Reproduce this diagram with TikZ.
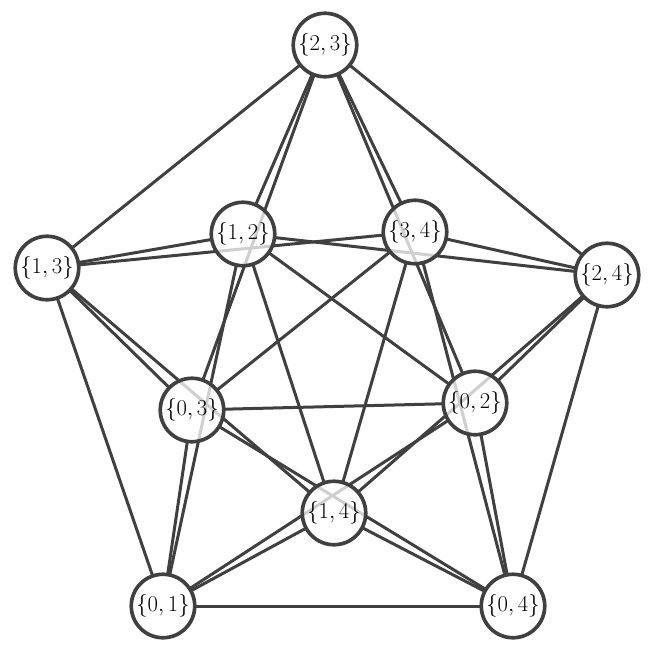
\documentclass[tikz,border=0pt]{standalone}
\usepackage{tikz}
\usetikzlibrary{calc}

\begin{document}
\begin{tikzpicture}[x=0.03cm, y=-0.03cm]
    \tikzset{SpotStyle/.style = {circle, minimum size=1.9cm, inner sep=0pt},
      VertexStyle/.style = {SpotStyle, draw=black!75, line width=1.1mm,
        preaction={fill=white, fill opacity=0.75}, font=\LARGE, scale=1.12},
      EdgeStyle/.style = {draw=black!75, line width=0.9mm}}
    \useasboundingbox (0,0) rectangle (664,662);
    \node[SpotStyle] (s23) at (325,45)  {};
    \node[SpotStyle] (s13) at (47,268)  {};
    \node[SpotStyle] (s12) at (243,234) {};
    \node[SpotStyle] (s34) at (415,232) {};
    \node[SpotStyle] (s24) at (607,275) {};
    \node[SpotStyle] (s03) at (192,410) {};
    \node[SpotStyle] (s02) at (475,403) {};
    \node[SpotStyle] (s14) at (334,513) {};
    \node[SpotStyle] (s01) at (163,606) {};
    \node[SpotStyle] (s04) at (513,606) {};
    \foreach \a/\b in {23/13,23/12,23/34,23/24,23/03,23/02,
                       13/12,13/34,13/03,13/14,13/01,
                       12/24,12/02,12/14,12/01,
                       34/24,34/03,34/14,34/04,
                       24/02,24/14,24/04,
                       03/02,03/01,03/04,
                       02/01,02/04,
                       14/01,14/04,
                       01/04}
      \draw[EdgeStyle] (s\a) -- (s\b);
    \foreach \v/\lab in {23/{2,3},13/{1,3},12/{1,2},34/{3,4},24/{2,4},
                         03/{0,3},02/{0,2},14/{1,4},01/{0,1},04/{0,4}}
      \node[VertexStyle, minimum size=1.7cm] at (s\v) {$\{\lab\}$};
\end{tikzpicture}
\end{document}
